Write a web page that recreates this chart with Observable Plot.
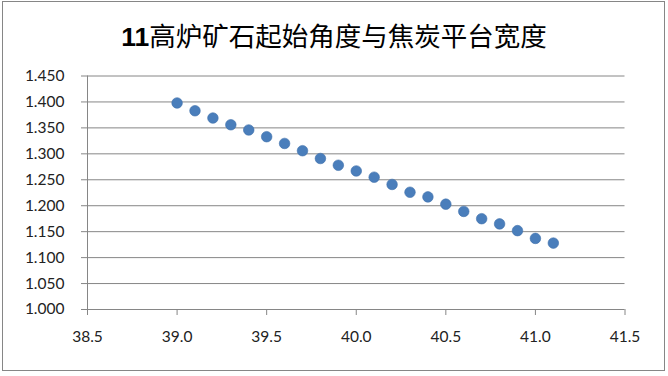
<!DOCTYPE html>
<html>
<head>
<meta charset="utf-8">
<script src="https://cdn.jsdelivr.net/npm/d3@7"></script>
<script src="https://cdn.jsdelivr.net/npm/@observablehq/plot@0.6"></script>
<style>
  html, body { margin: 0; padding: 0; background: #fff; }
  #wrap { position: relative; width: 668px; height: 376px; overflow: hidden; }
  #frame { position: absolute; left: 2px; top: 1px; width: 661px; height: 368px; border: 1px solid #868686; box-sizing: content-box; pointer-events: none; }
  #title { position: absolute; left: 0; top: 22px; width: 668px; text-align: center; font-family: "Noto Sans CJK SC", sans-serif; font-size: 26.5px; line-height: 26px; color: #000; white-space: nowrap; }
  #title b { font-family: "Liberation Sans", "Noto Sans CJK SC", sans-serif; font-weight: bold; }
  #chart { position: absolute; left: 0; top: 0; }
</style>
</head>
<body>
<div id="wrap">
  <div id="chart"></div>
  <div id="title"><b>11</b>高炉矿石起始角度与焦炭平台宽度</div>
  <div id="frame"></div>
</div>
<script>
const titleText = "11高炉矿石起始角度与焦炭平台宽度";
const xValues = [39.0, 39.1, 39.2, 39.3, 39.4, 39.5, 39.6, 39.7, 39.8, 39.9, 40.0,
                 40.1, 40.2, 40.3, 40.4, 40.5, 40.6, 40.7, 40.8, 40.9, 41.0, 41.1];
const yValues = [1.398, 1.383, 1.369, 1.356, 1.346, 1.333, 1.320, 1.306, 1.291, 1.278, 1.267,
                 1.255, 1.241, 1.226, 1.217, 1.203, 1.189, 1.175, 1.165, 1.152, 1.137, 1.128];
const xTicks = [38.5, 39.0, 39.5, 40.0, 40.5, 41.0, 41.5];
const yTicks = [1.000, 1.050, 1.100, 1.150, 1.200, 1.250, 1.300, 1.350, 1.400, 1.450];

const data = xValues.map((x, i) => ({x, y: yValues[i]}));
const axisColor = "#868686";

const chart = Plot.plot({
  width: 668,
  height: 376,
  marginTop: 75.5,
  marginBottom: 67,
  marginLeft: 87,
  marginRight: 43.5,
  style: { fontFamily: "Lato, 'Liberation Sans', sans-serif", fontSize: "15.5px", color: "#222", background: "transparent" },
  x: { domain: [38.5, 41.5], ticks: xTicks, tickFormat: d3.format(".1f"), label: null },
  y: { domain: [1.0, 1.45], ticks: yTicks, tickFormat: d3.format(".3f"), label: null },
  marks: [
    Plot.ruleY(yTicks, { stroke: axisColor, strokeWidth: 1 }),
    Plot.ruleX([38.5], { stroke: axisColor, strokeWidth: 1 }),
    Plot.axisY({ ticks: yTicks, tickFormat: d3.format(".3f"), tickSize: 6, tickPadding: 17, stroke: axisColor, label: null, fill: "#222" }),
    Plot.axisX({ ticks: xTicks, tickFormat: d3.format(".1f"), tickSize: 6, tickPadding: 15, stroke: axisColor, label: null, fill: "#222" }),
    Plot.dot(data, { x: "x", y: "y", r: 5.3, fill: "#4A7EBB", stroke: "#3f70ab", strokeWidth: 0.6 })
  ]
});
document.getElementById("chart").appendChild(chart);
</script>
</body>
</html>
